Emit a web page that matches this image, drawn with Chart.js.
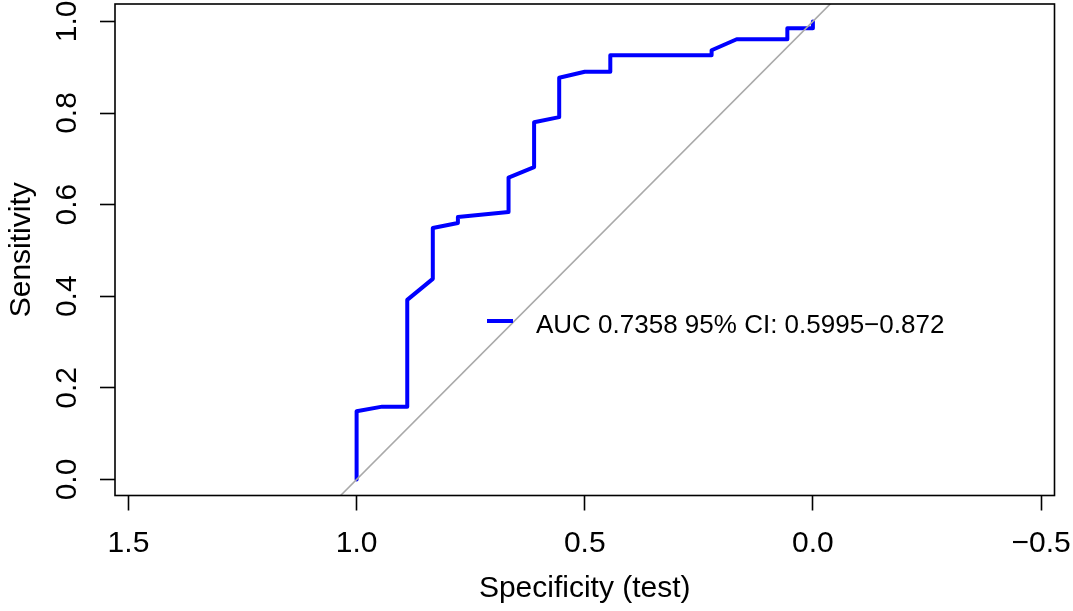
<!DOCTYPE html>
<html lang="en">
<head>
  <meta charset="UTF-8">
  <title>ROC curve</title>
  <script src="https://cdn.jsdelivr.net/npm/chart.js"></script>
  <style>
    body { margin: 0; background: #fff; }
    #wrap { width: 1073px; height: 611px; }
  </style>
</head>
<body>
<div id="wrap"><canvas id="roc" width="1073" height="611"></canvas></div>
<script>
// ROC points (specificity on a reversed axis)
const specificity = [1, 1, 0.944, 0.889, 0.889, 0.833, 0.833, 0.778, 0.778, 0.667, 0.667, 0.611, 0.611,
  0.556, 0.556, 0.5, 0.444, 0.444, 0.222, 0.222, 0.167, 0.056, 0.056, 0, 0];
const sensitivity = [0, 0.149, 0.159, 0.159, 0.392, 0.438, 0.549, 0.560, 0.573, 0.584, 0.659, 0.682, 0.780,
  0.791, 0.877, 0.890, 0.890, 0.926, 0.926, 0.937, 0.961, 0.961, 0.985, 0.985, 1.0];
// chance line (sens = 1 - spec), clipped by the plot box
const chanceX = [1.2, -0.2];
const chanceY = [-0.2, 1.2];
const xTicks = [1.5, 1.0, 0.5, 0.0, -0.5];
const yTicks = [0.0, 0.2, 0.4, 0.6, 0.8, 1.0];
const legendText = "AUC 0.7358 95% CI: 0.5995\u22120.872";

const FONT = "'Liberation Sans', Arial, Helvetica, sans-serif";
const fmt = v => (v < 0 ? "\u2212" : "") + Math.abs(v).toFixed(1);

function noPad(s) {
  s.paddingTop = 0; s.paddingBottom = 0; s.paddingLeft = 0; s.paddingRight = 0;
}

const boxAndLegend = {
  id: "boxAndLegend",
  afterDraw(chart) {
    const ctx = chart.ctx, a = chart.chartArea;
    ctx.save();
    ctx.strokeStyle = "#000";
    ctx.lineWidth = 1.6;
    ctx.strokeRect(a.left, a.top, a.right - a.left, a.bottom - a.top);
    // legend
    ctx.strokeStyle = "#0000ff";
    ctx.lineWidth = 4;
    ctx.beginPath();
    ctx.moveTo(487, 321);
    ctx.lineTo(513, 321);
    ctx.stroke();
    ctx.fillStyle = "#000";
    ctx.font = "26px " + FONT;
    ctx.textBaseline = "alphabetic";
    ctx.fillText(legendText, 536, 333);
    ctx.restore();
  }
};

new Chart(document.getElementById("roc"), {
  type: "scatter",
  data: {
    datasets: [
      {
        data: chanceX.map((x, i) => ({ x: x, y: chanceY[i] })),
        showLine: true, borderColor: "#a9a9a9", borderWidth: 1.6, pointRadius: 0
      },
      {
        data: specificity.map((x, i) => ({ x: x, y: sensitivity[i] })),
        showLine: true, borderColor: "#0000ff", borderWidth: 4, pointRadius: 0,
        borderJoinStyle: "round", borderCapStyle: "round"
      }
    ]
  },
  options: {
    responsive: false,
    animation: false,
    devicePixelRatio: 1,
    layout: { padding: { top: 4, right: 18.5, left: 0, bottom: 0 } },
    plugins: { legend: { display: false }, tooltip: { enabled: false } },
    scales: {
      x: {
        type: "linear", reverse: true, min: -0.5295, max: 1.5295,
        afterBuildTicks: s => { s.ticks = xTicks.map(v => ({ value: v })); },
        afterFit: s => { s.height = 115.5; noPad(s); },
        grid: { drawOnChartArea: false, drawTicks: true, tickLength: 15, tickColor: "#000", tickWidth: 1.6 },
        border: { display: false },
        ticks: { color: "#000", font: { family: FONT, size: 30 }, padding: 15.5, maxRotation: 0, callback: fmt },
        title: { display: true, text: "Specificity (test)", color: "#000",
          font: { family: FONT, size: 30, lineHeight: 1.2 }, padding: { top: 0, bottom: 4.5 } }
      },
      y: {
        type: "linear", min: -0.035, max: 1.038,
        afterBuildTicks: s => { s.ticks = yTicks.map(v => ({ value: v })); },
        afterFit: s => { s.width = 115; noPad(s); },
        grid: { drawOnChartArea: false, drawTicks: true, tickLength: 15, tickColor: "#000", tickWidth: 1.6 },
        border: { display: false },
        ticks: { color: "#000", font: { family: FONT, size: 30 }, padding: 11.5,
          minRotation: 90, maxRotation: 90, crossAlign: "center", callback: fmt },
        title: { display: true, text: "Sensitivity", color: "#000",
          font: { family: FONT, size: 30, lineHeight: 1.2 }, padding: { top: 4, bottom: 0 } }
      }
    }
  },
  plugins: [boxAndLegend]
});
</script>
</body>
</html>
